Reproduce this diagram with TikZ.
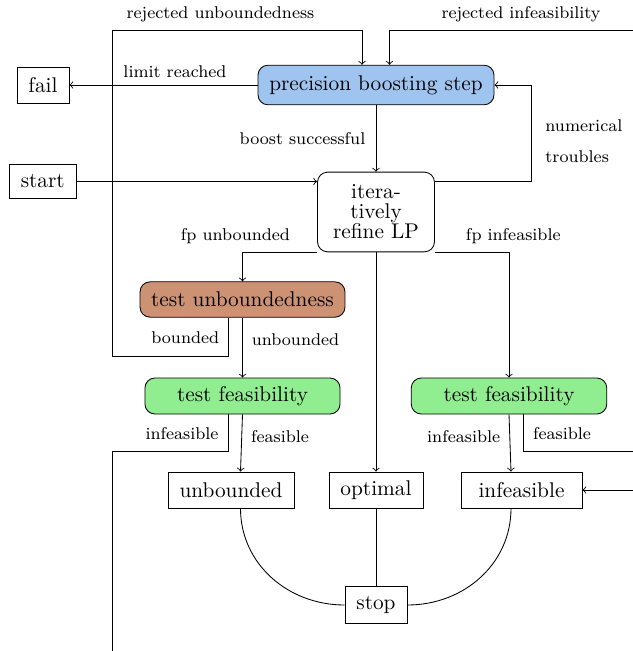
\documentclass[tikz,border=0pt]{standalone}
\usetikzlibrary{calc}
\definecolor{precblue}{RGB}{160,196,240}
\definecolor{tubrown}{RGB}{205,145,115}
\definecolor{tfgreen}{RGB}{144,238,144}
\tikzset{
  plainbox/.style={draw, rectangle, inner sep=0pt, font=\normalsize},
  roundbox/.style={draw, rectangle, rounded corners=4.7pt, inner sep=0pt, font=\normalsize},
  lbl/.style={font=\footnotesize, inner sep=0pt},
  conn/.style={->},
}
\begin{document}
\begin{tikzpicture}[x=0.4695pt, y=-0.4695pt]
\useasboundingbox (0,0) rectangle (633,651);
\clip (0,0) rectangle (633,651);

% nodes
\node[plainbox, minimum width=24.4pt, minimum height=16.9pt] (fail) at (43,85) {fail};
\node[roundbox, fill=precblue, minimum width=110.8pt, minimum height=18.6pt] (prec) at (376,85) {precision boosting step};
\node[plainbox, minimum width=31.5pt, minimum height=16.2pt] (start) at (42.8,181.5) {start};
\node[roundbox, minimum width=54.9pt, minimum height=37.4pt, text width=50pt, align=center, inner xsep=2.45pt] (iter) at (376,212) {itera-\\[-2.6pt]tively\\[-2.6pt]refine LP};
\node[roundbox, fill=tubrown, minimum width=96.2pt, minimum height=16.6pt] (tu) at (242.5,299.5) {test unboundedness};
\node[roundbox, fill=tfgreen, minimum width=91.6pt, minimum height=16.9pt] (tfL) at (242.5,396) {test feasibility};
\node[roundbox, fill=tfgreen, minimum width=91.8pt, minimum height=16.9pt] (tfR) at (509,396) {test feasibility};
\node[plainbox, minimum width=59.2pt, minimum height=16.9pt] (unb) at (231,490) {unbounded};
\node[plainbox, minimum width=44.1pt, minimum height=16.9pt] (opt) at (376,490) {optimal};
\node[plainbox, minimum width=56.8pt, minimum height=16.9pt] (inf) at (521.5,490) {infeasible};
\node[plainbox, minimum width=29.1pt, minimum height=17.6pt] (stop) at (376,605) {stop};

% labels
\node[lbl] (lru) at (220.5,14) {rejected unboundedness};
\node[lbl] (lri) at (521,14) {rejected infeasibility};
\node[lbl] (llr) at (175,72) {limit reached};
\node[lbl] (lbs) at (302.5,139) {boost successful};
\node[lbl, anchor=west, align=left] (lnt) at (545,141) {numerical\\[5pt]troubles};
\node[lbl] (lfpu) at (235.5,236) {fp unbounded};
\node[lbl] (lfpi) at (513.3,236) {fp infeasible};
\node[lbl] (lbd) at (185.3,338) {bounded};
\node[lbl] (lub) at (295.5,340) {unbounded};
\node[lbl] (linfL) at (182,434) {infeasible};
\node[lbl] (lfeL) at (280,437) {feasible};
\node[lbl] (linfR) at (463.7,437) {infeasible};
\node[lbl] (lfeR) at (562,434) {feasible};

% helper coordinates (corners of routed connectors)
\coordinate (ru1) at (112,356);
\coordinate (ru2) at (112,30);
\coordinate (ri1) at (700,451);
\coordinate (ri2) at (700,30);
\coordinate (ii1) at (112,451);
\coordinate (ii2) at (112,720);
\coordinate (ii3) at (720,720);
\coordinate (nt) at (531,181.5);

% connectors
\draw[conn] (prec.west) -- (fail.east);
\draw[conn] ($(tu.south)+(-14,0)$) |- (ru1) -- (ru2) -| ($(prec.north)+(-14,0)$);
\draw[conn] ($(tfR.south)+(14,0)$) |- (ri1) -- (ri2) -| ($(prec.north)+(13.5,0)$);
\draw[conn] ($(tfL.south)+(-14.5,0)$) |- (ii1) -- (ii2) -- (ii3) |- (inf.east);
\draw[conn] (prec.south) -- (iter.north);
\draw[conn] (start -| iter.east) -- (nt) |- (prec.east);
\draw[conn] (start.east) -- (start -| iter.west);
\draw[conn] (iter.south west) -| (tu.north);
\draw[conn] (iter.south east) -| (tfR.north);
\draw[conn] (iter.south) -- (opt.north);
\draw[conn] (tu.south) -- (tfL.north);
\draw[conn] (tfL.south) -- ($(unb.north)+(9.5,0)$);
\draw[conn] (tfR.south) -- ($(inf.north)+(-10.5,0)$);
\draw ($(unb.south)+(9.5,0)$) .. controls +(0,55) and +(-57,0) .. (stop.west);
\draw ($(inf.south)+(-10.5,0)$) .. controls +(0,55) and +(57,0) .. (stop.east);
\draw (opt.south) -- (stop.north);
\end{tikzpicture}
\end{document}
